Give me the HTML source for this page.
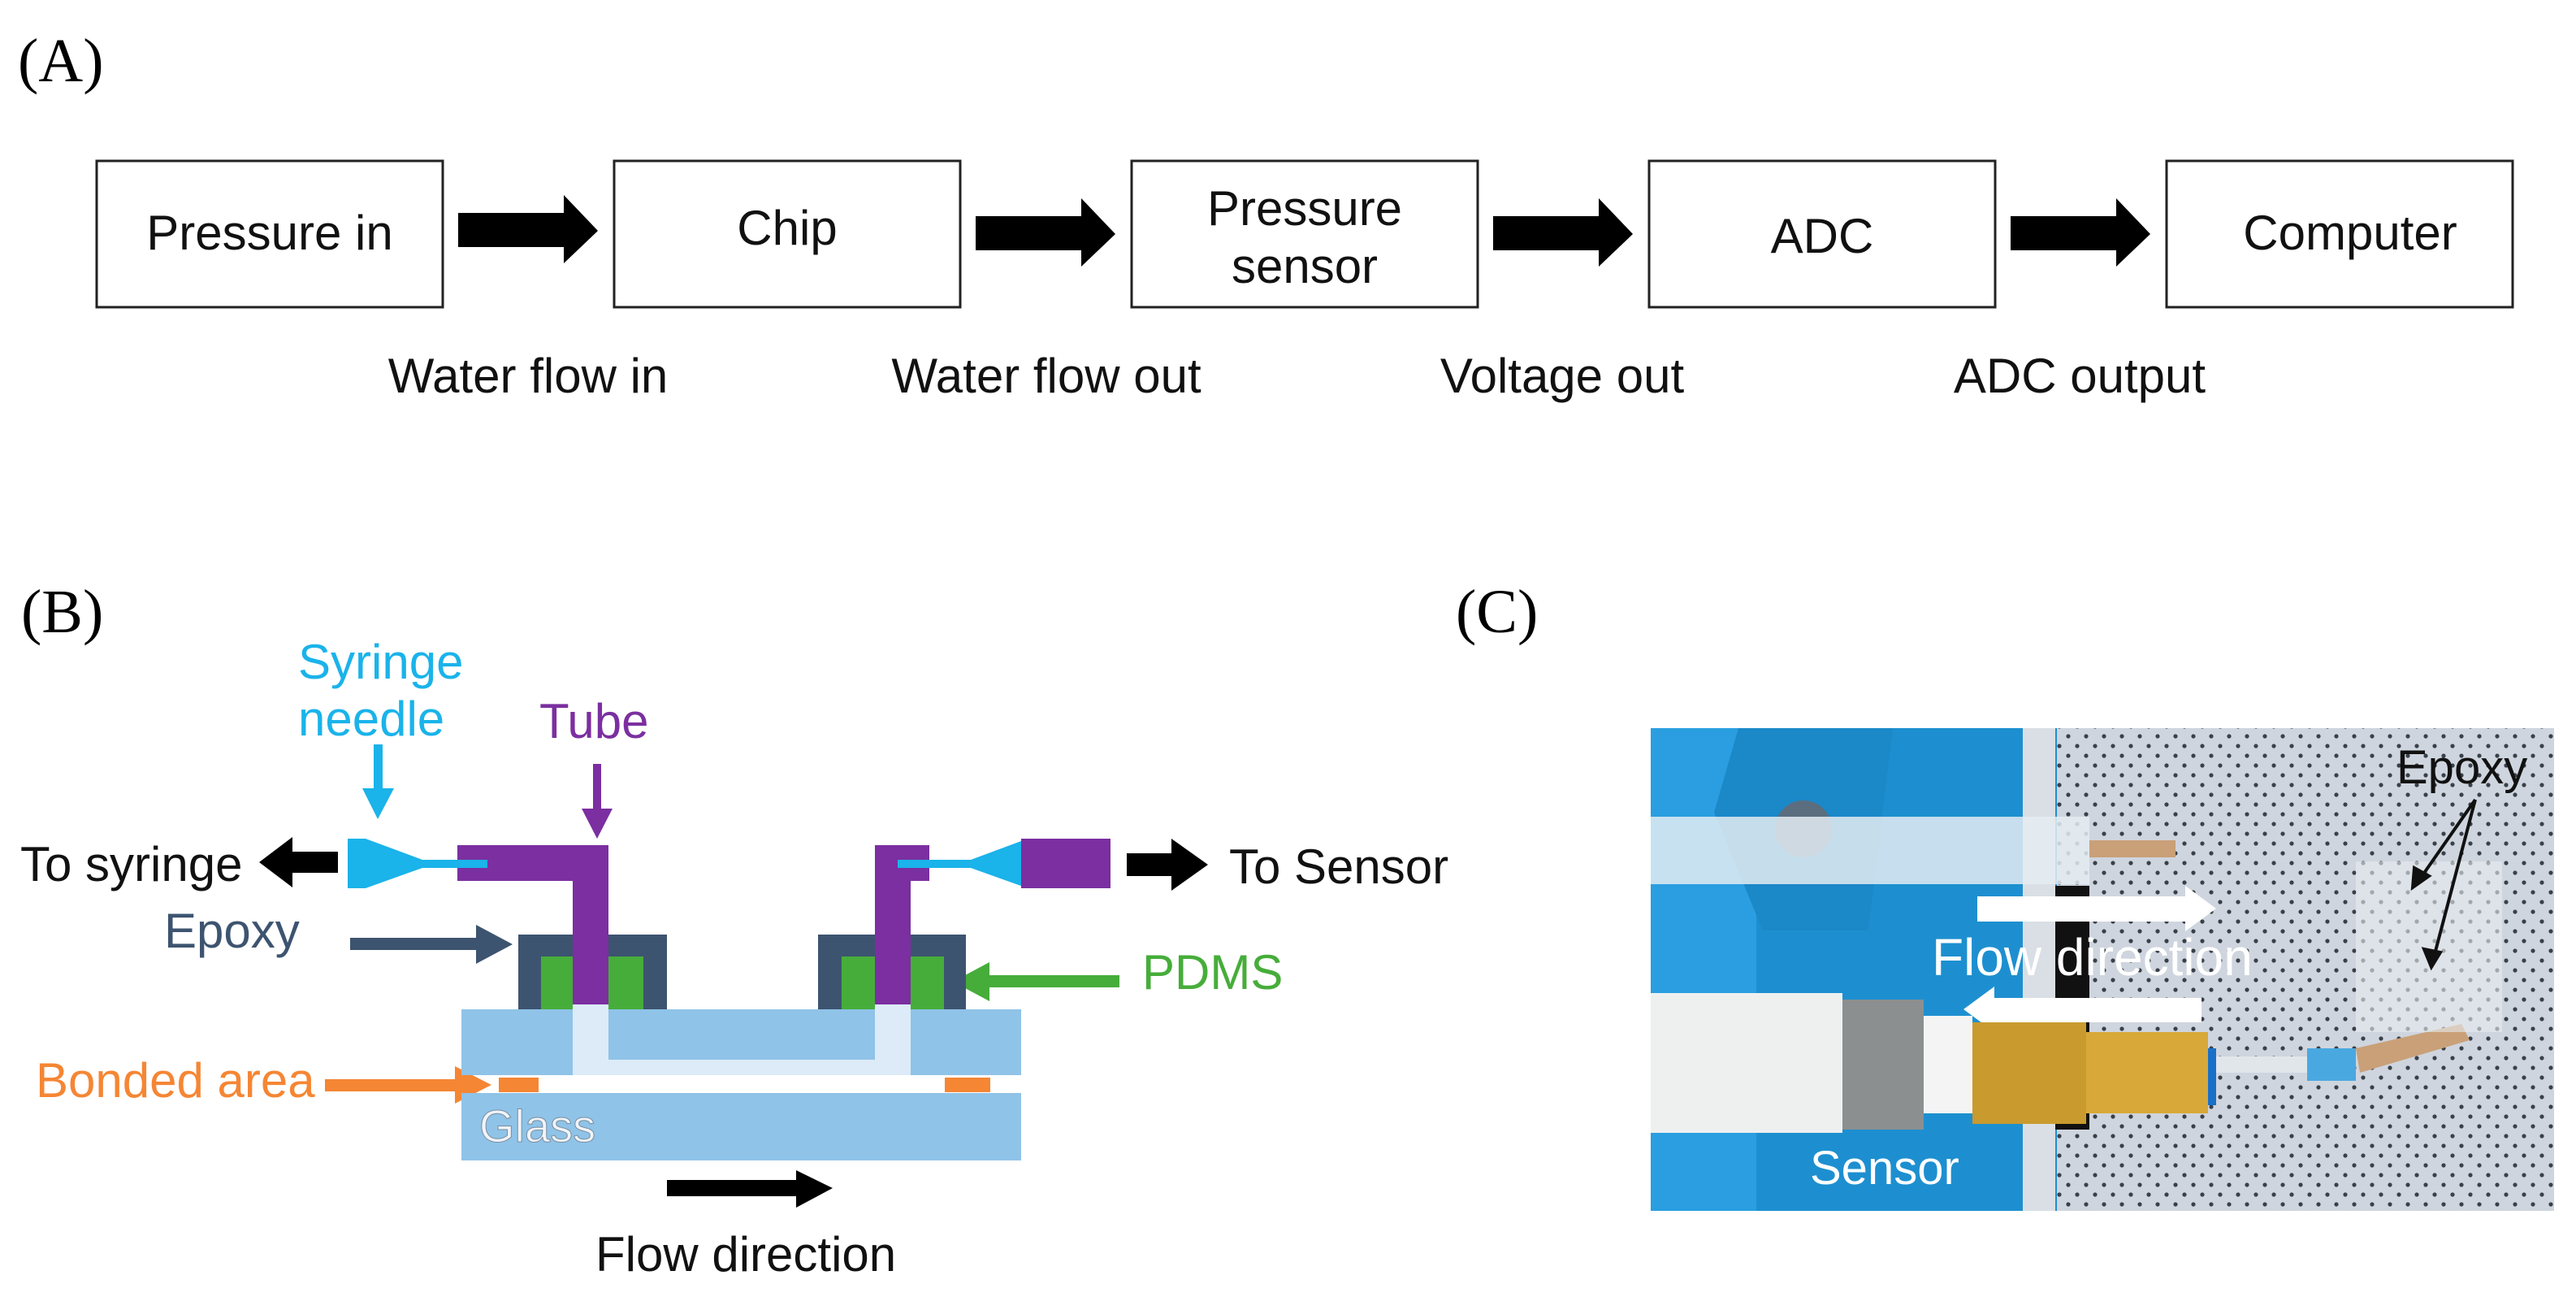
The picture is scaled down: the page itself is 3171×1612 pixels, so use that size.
<!DOCTYPE html>
<html><head><meta charset="utf-8"><style>
html,body{margin:0;padding:0;background:#fff}
svg{display:block}
text{font-family:"Liberation Sans",Arial,sans-serif}
.s{font-family:"Liberation Serif",serif}
</style></head><body>
<svg width="3171" height="1612" viewBox="0 0 3171 1612" xmlns="http://www.w3.org/2000/svg">
<defs>
<pattern id="dots" x="0" y="0" width="22" height="24" patternUnits="userSpaceOnUse">
<rect width="22" height="24" fill="#cfd5de"/>
<circle cx="5" cy="6" r="2.6" fill="#3a4048"/>
<circle cx="16" cy="18" r="2.6" fill="#3a4048"/>
</pattern>
</defs>
<!-- Panel A -->
<text class="s" x="22" y="100" font-size="76">(A)</text>
<g fill="#fff" stroke="#222" stroke-width="3">
<rect x="119" y="198" width="426" height="180"/>
<rect x="756" y="198" width="426" height="180"/>
<rect x="1393" y="198" width="426" height="180"/>
<rect x="2030" y="198" width="426" height="180"/>
<rect x="2667" y="198" width="426" height="180"/>
</g>
<g font-size="60" text-anchor="middle" fill="#111">
<text x="332" y="307">Pressure in</text>
<text x="969" y="301">Chip</text>
<text x="1606" y="277">Pressure</text>
<text x="1606" y="348">sensor</text>
<text x="2243" y="311">ADC</text>
<text x="2893" y="307">Computer</text>
<text x="650" y="483">Water flow in</text>
<text x="1288" y="483">Water flow out</text>
<text x="1923" y="483">Voltage out</text>
<text x="2560" y="483">ADC output</text>
</g>
<g fill="#000">
<polygon points="564,262 694,262 694,240 736,284 694,324 694,304 564,304"/>
<polygon points="1201,266 1331,266 1331,244 1373,288 1331,328 1331,308 1201,308"/>
<polygon points="1838,266 1968,266 1968,244 2010,288 1968,328 1968,308 1838,308"/>
<polygon points="2475,266 2605,266 2605,244 2647,288 2605,328 2605,308 2475,308"/>
</g>
<!-- Panel B -->
<text class="s" x="26" y="778" font-size="76">(B)</text>
<text class="s" x="1792" y="778" font-size="76">(C)</text>
<g font-size="60">
<text x="367" y="835" fill="#1ab3ea">Syringe</text>
<text x="367" y="905" fill="#1ab3ea">needle</text>
<text x="664" y="908" fill="#7b2fa0">Tube</text>
<text x="25" y="1084" fill="#111">To syringe</text>
<text x="1513" y="1087" fill="#111">To Sensor</text>
<text x="202" y="1166" fill="#3d5470">Epoxy</text>
<text x="1406" y="1217" fill="#46ad3a">PDMS</text>
<text x="44" y="1350" fill="#f58634">Bonded area</text>
<text x="733" y="1564" fill="#111">Flow direction</text>
</g>
<!-- callout arrows -->
<rect x="460" y="916" width="11" height="60" fill="#1ab3ea"/>
<polygon points="446,970 485,970 465,1008" fill="#1ab3ea"/>
<rect x="730" y="940" width="10" height="60" fill="#7b2fa0"/>
<polygon points="716,995 754,995 735,1032" fill="#7b2fa0"/>
<rect x="431" y="1154" width="160" height="15" fill="#3d5470"/>
<polygon points="586,1138 631,1162 586,1186" fill="#3d5470"/>
<rect x="1213" y="1200" width="165" height="15" fill="#46ad3a"/>
<polygon points="1218,1184 1173,1208 1218,1232" fill="#46ad3a"/>
<rect x="400" y="1328" width="165" height="15" fill="#f58634"/>
<polygon points="560,1312 605,1335 560,1358" fill="#f58634"/>
<polygon points="416,1048 360,1048 360,1030 319,1061 360,1092 360,1074 416,1074" fill="#000"/>
<polygon points="1387,1050 1442,1050 1442,1032 1487,1064 1442,1096 1442,1078 1387,1078" fill="#000"/>
<polygon points="821,1452 980,1452 980,1440 1025,1462 980,1486 980,1472 821,1472" fill="#000"/>
<!-- chip -->
<rect x="638" y="1150" width="183" height="92" fill="#3d5470"/>
<rect x="1007" y="1150" width="182" height="92" fill="#3d5470"/>
<rect x="666" y="1177" width="126" height="65" fill="#46ad3a"/>
<rect x="1036" y="1177" width="126" height="65" fill="#46ad3a"/>
<rect x="568" y="1242" width="689" height="81" fill="#8fc3e8"/>
<rect x="705" y="1236" width="44" height="87" fill="#dcebf7"/>
<rect x="1077" y="1236" width="44" height="87" fill="#dcebf7"/>
<rect x="705" y="1304" width="416" height="19" fill="#dcebf7"/>
<rect x="614" y="1326" width="49" height="18" fill="#f58634"/>
<rect x="1163" y="1326" width="56" height="18" fill="#f58634"/>
<rect x="568" y="1345" width="689" height="83" fill="#8fc3e8"/>
<text x="590" y="1405" font-size="56" fill="#f0f4f8" stroke="#7a8ea0" stroke-width="1">Glass</text>
<!-- tubes -->
<path d="M563,1040 H749 V1236 H705 V1084 H563 Z" fill="#7b2fa0"/>
<path d="M1077,1040 H1144 V1084 H1121 V1236 H1077 Z" fill="#7b2fa0"/>
<!-- needles -->
<polygon points="428,1032 450,1032 520,1058 600,1058 600,1068 520,1068 450,1093 428,1093" fill="#1ab3ea"/>
<polygon points="1105,1058 1195,1058 1265,1032 1280,1032 1280,1093 1265,1093 1195,1068 1105,1068" fill="#1ab3ea"/>
<rect x="1257" y="1032" width="110" height="61" fill="#7b2fa0"/>
<!-- Panel C photo -->
<rect x="2032" y="896" width="1112" height="594" fill="url(#dots)"/>
<rect x="2032" y="896" width="500" height="594" fill="#1d8fd0"/>
<rect x="2032" y="896" width="130" height="594" fill="#2a9ee0"/>
<rect x="2527" y="1090" width="45" height="300" fill="#111"/>
<rect x="2490" y="896" width="40" height="594" fill="#d9dfe4"/>
<polygon points="2140,896 2330,896 2300,1145 2170,1145 2110,1000" fill="#1b88c8"/>
<circle cx="2220" cy="1020" r="35" fill="#5a6e80"/>
<rect x="2032" y="1005" width="540" height="83" fill="#e4ecf2" opacity="0.85"/>
<rect x="2572" y="1034" width="106" height="21" fill="#c9a078"/>
<polygon points="2434,1103 2690,1103 2690,1090 2728,1118 2690,1146 2690,1134 2434,1134" fill="#fff"/>
<polygon points="2710,1228 2455,1228 2455,1214 2417,1242 2455,1270 2455,1258 2710,1258" fill="#fff"/>
<text x="2378" y="1200" font-size="64" fill="#fff">Flow direction</text>
<rect x="2032" y="1222" width="236" height="172" fill="#eef0f0"/>
<rect x="2268" y="1230" width="100" height="160" fill="#8c8f90"/>
<rect x="2368" y="1250" width="60" height="120" fill="#f4f4f4"/>
<rect x="2428" y="1258" width="140" height="125" fill="#c99a2e"/>
<rect x="2568" y="1270" width="150" height="100" fill="#d8a838"/>
<rect x="2718" y="1290" width="10" height="70" fill="#1a70c8"/>
<rect x="2728" y="1300" width="150" height="20" fill="#e0e6ea"/>
<rect x="2840" y="1290" width="60" height="40" fill="#4aa8e0"/>
<polygon points="2900,1290 3030,1260 3040,1280 2905,1320" fill="#c9a078"/>
<rect x="2900" y="1060" width="180" height="210" fill="#e8ecf0" opacity="0.6"/>
<text x="2228" y="1457" font-size="58" fill="#fff">Sensor</text>
<text x="2950" y="964" font-size="58" fill="#111">Epoxy</text>
<g stroke="#111" stroke-width="4" fill="#111">
<line x1="3047" y1="984" x2="2980" y2="1080"/>
<line x1="3047" y1="984" x2="2996" y2="1178"/>
<polygon points="2970,1092 2972,1068 2990,1078" />
<polygon points="2993,1190 2984,1168 3004,1172" />
</g>
</svg>
</body></html>
